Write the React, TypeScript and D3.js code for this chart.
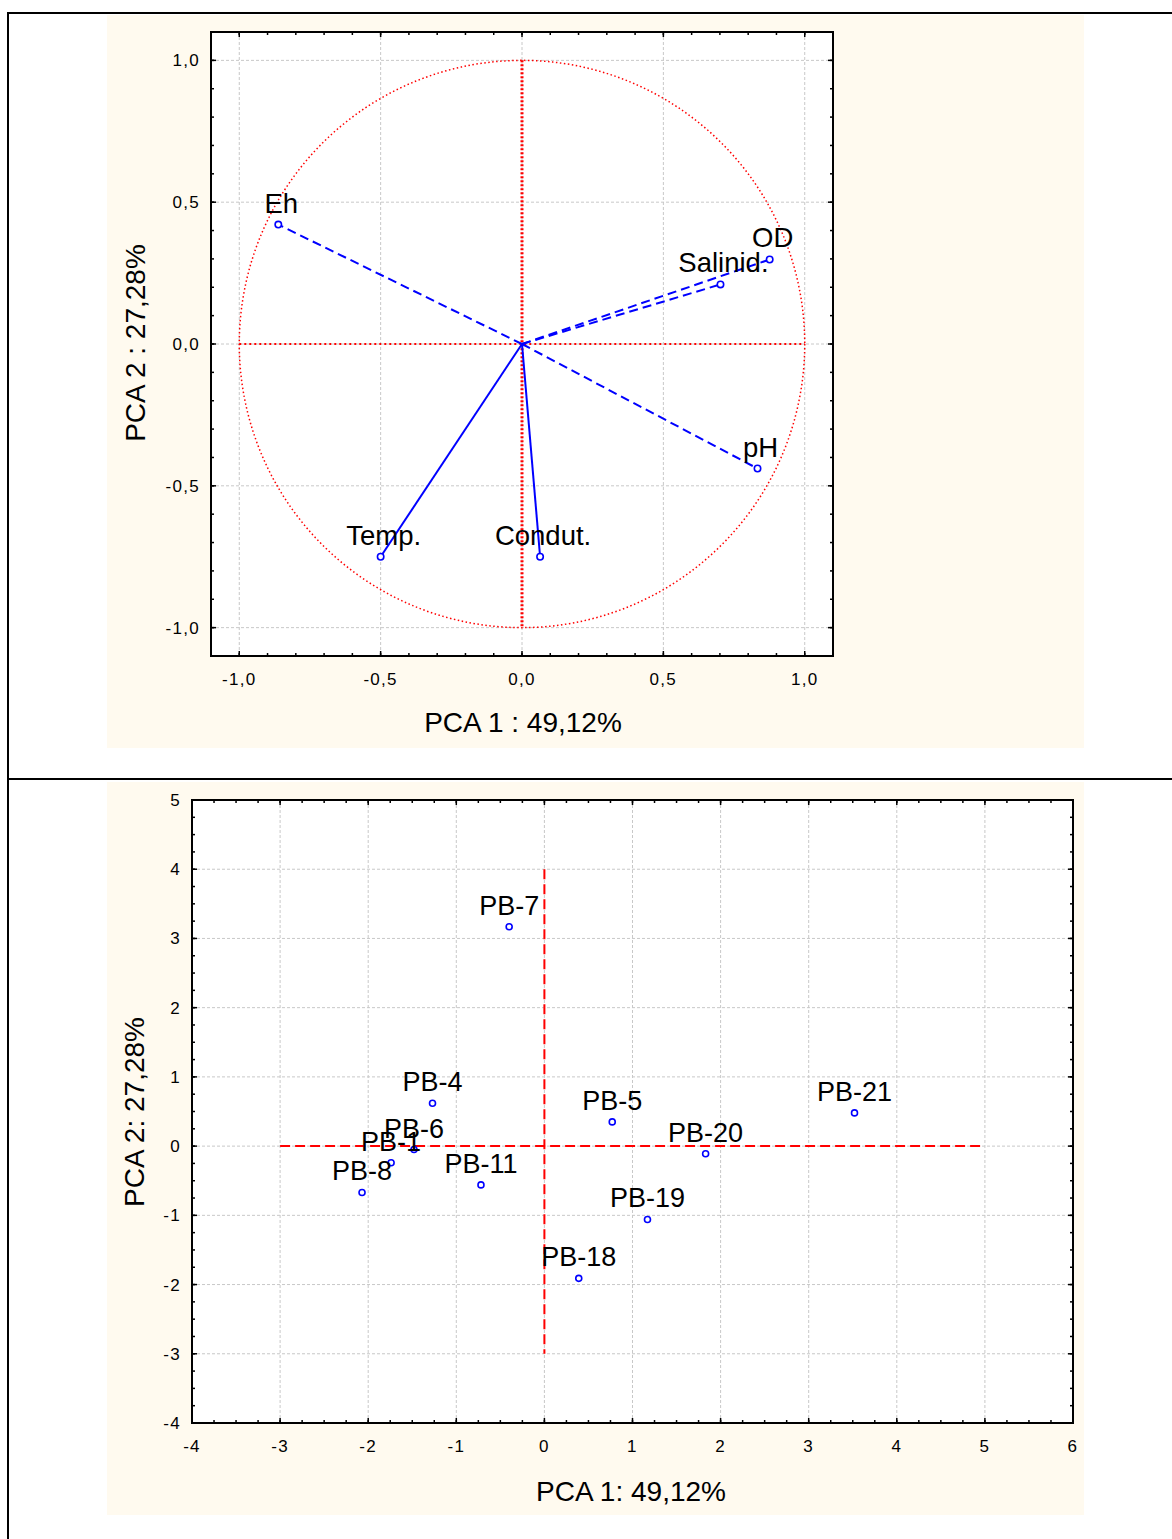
import * as d3 from 'd3';

// loadings (top panel)
const VARS = ['Eh', 'OD', 'Salinid.', 'pH', 'Temp.', 'Condut.'];
const LOAD_PC1 = [-0.862, 0.876, 0.702, 0.833, -0.5, 0.064];
const LOAD_PC2 = [0.421, 0.298, 0.21, -0.439, -0.75, -0.75];
const LOAD_TICKS = [-1, -0.5, 0, 0.5, 1];

// site scores (bottom panel)
const SITES = ['PB-7', 'PB-4', 'PB-6', 'PB-1', 'PB-8', 'PB-11', 'PB-5', 'PB-20', 'PB-21', 'PB-19', 'PB-18'];
const SCORE_PC1 = [-0.4, -1.27, -1.48, -1.74, -2.07, -0.72, 0.77, 1.83, 3.52, 1.17, 0.39];
const SCORE_PC2 = [3.17, 0.62, -0.05, -0.24, -0.67, -0.56, 0.35, -0.11, 0.48, -1.06, -1.91];
const SCORE_X_TICKS = [-4, -3, -2, -1, 0, 1, 2, 3, 4, 5, 6];
const SCORE_Y_TICKS = [-4, -3, -2, -1, 0, 1, 2, 3, 4, 5];

const FONT = 'Arial, "Liberation Sans", sans-serif';
const BLUE = '#0000ff';
const RED = '#ff0000';
const GRID = '#c8c8c8';
const CREAM = '#fffaef';

const solidVars = new Set(['Temp.', 'Condut.']);
const fmtComma = (v: number) => v.toFixed(1).replace('.', ',');

type Scale = d3.ScaleLinear<number, number>;

function Frame({ x, y, majorX, majorY, minorX, minorY, fmtX, fmtY }: {
  x: Scale; y: Scale; majorX: number[]; majorY: number[]; minorX: number[]; minorY: number[];
  fmtX: (v: number) => string; fmtY: (v: number) => string;
}) {
  const [x0, x1] = x.range();
  const [y0, y1] = y.range(); // y0 bottom, y1 top
  const tickStyle = { stroke: '#000', strokeWidth: 1.5 };
  return (
    <g>
      {/* grid */}
      {majorX.filter(v => x(v) > x0 + 1 && x(v) < x1 - 1).map(v => (
        <line key={'gx' + v} x1={x(v)} x2={x(v)} y1={y1} y2={y0} stroke={GRID} strokeWidth={1} strokeDasharray="3,2" />
      ))}
      {majorY.filter(v => y(v) < y0 - 1 && y(v) > y1 + 1).map(v => (
        <line key={'gy' + v} x1={x0} x2={x1} y1={y(v)} y2={y(v)} stroke={GRID} strokeWidth={1} strokeDasharray="3,2" />
      ))}
      {/* minor ticks, all four sides, inward */}
      {minorX.map(v => (
        <g key={'mx' + v}>
          <line x1={x(v)} x2={x(v)} y1={y0} y2={y0 - 3} {...tickStyle} />
          <line x1={x(v)} x2={x(v)} y1={y1} y2={y1 + 3} {...tickStyle} />
        </g>
      ))}
      {minorY.map(v => (
        <g key={'my' + v}>
          <line x1={x0} x2={x0 + 3} y1={y(v)} y2={y(v)} {...tickStyle} />
          <line x1={x1} x2={x1 - 3} y1={y(v)} y2={y(v)} {...tickStyle} />
        </g>
      ))}
      {majorX.map(v => (
        <g key={'tx' + v}>
          <line x1={x(v)} x2={x(v)} y1={y0} y2={y0 - 5} {...tickStyle} />
          <line x1={x(v)} x2={x(v)} y1={y1} y2={y1 + 5} {...tickStyle} />
        </g>
      ))}
      {majorY.map(v => (
        <g key={'ty' + v}>
          <line x1={x0} x2={x0 + 5} y1={y(v)} y2={y(v)} {...tickStyle} />
          <line x1={x1} x2={x1 - 5} y1={y(v)} y2={y(v)} {...tickStyle} />
        </g>
      ))}
      <rect x={x0} y={y1} width={x1 - x0} height={y0 - y1} fill="none" stroke="#000" strokeWidth={2} />
      {/* tick labels */}
      {majorX.map(v => (
        <text key={'lx' + v} x={x(v)} y={y0 + 29} textAnchor="middle" fontSize={17} letterSpacing={1.3} fontFamily={FONT}>{fmtX(v)}</text>
      ))}
      {majorY.map(v => (
        <text key={'ly' + v} x={x0 - 11} y={y(v) + 6} textAnchor="end" fontSize={17} letterSpacing={1.3} fontFamily={FONT}>{fmtY(v)}</text>
      ))}
    </g>
  );
}

export default function App() {
  // top panel scales
  const xL = d3.scaleLinear().domain([-1.1, 1.1]).range([211, 833]);
  const yL = d3.scaleLinear().domain([-1.1, 1.1]).range([656, 32]);
  const minorL = d3.range(-11, 12).map(i => i / 10);

  // bottom panel scales
  const xS = d3.scaleLinear().domain([-4, 6]).range([192, 1073]);
  const yS = d3.scaleLinear().domain([-4, 5]).range([1423, 800]);
  const minorSX = d3.range(-16, 25).map(i => i / 4);
  const minorSY = d3.range(-16, 21).map(i => i / 4);

  const loadings = VARS.map((name, i) => ({ name, pc1: LOAD_PC1[i], pc2: LOAD_PC2[i] }));
  const scores = SITES.map((name, i) => ({ name, pc1: SCORE_PC1[i], pc2: SCORE_PC2[i] }));

  return (
    <div style={{ position: 'absolute', left: 0, top: 0 }}>
      <svg width={1172} height={1539} style={{ display: 'block', background: '#fff' }}>
        {/* table borders */}
        <line x1={8} x2={1172} y1={13} y2={13} stroke="#000" strokeWidth={2} />
        <line x1={8} x2={1172} y1={779} y2={779} stroke="#000" strokeWidth={2} />
        <line x1={8} x2={8} y1={12} y2={1539} stroke="#000" strokeWidth={2} />

        {/* ===== top: loadings ===== */}
        <rect x={107} y={15} width={977} height={733} fill={CREAM} />
        <rect x={211} y={32} width={622} height={624} fill="#fff" />
        <Frame x={xL} y={yL} majorX={LOAD_TICKS} majorY={LOAD_TICKS} minorX={minorL} minorY={minorL} fmtX={fmtComma} fmtY={fmtComma} />

        <ellipse cx={xL(0)} cy={yL(0)} rx={xL(1) - xL(0)} ry={yL(0) - yL(1)} fill="none" stroke={RED} strokeWidth={1.5} strokeDasharray="1.5,2.5" />
        <line x1={xL(-1)} x2={xL(1)} y1={yL(0)} y2={yL(0)} stroke={RED} strokeWidth={2} strokeDasharray="2,3" />
        <line x1={xL(0)} x2={xL(0)} y1={yL(1)} y2={yL(-1)} stroke={RED} strokeWidth={3} strokeDasharray="2,2" />

        {loadings.map(d => (
          <line key={'v' + d.name} x1={xL(0)} y1={yL(0)} x2={xL(d.pc1)} y2={yL(d.pc2)} stroke={BLUE} strokeWidth={2}
            strokeDasharray={solidVars.has(d.name) ? undefined : '9,5'} />
        ))}
        {loadings.map(d => (
          <circle key={'c' + d.name} cx={xL(d.pc1)} cy={yL(d.pc2)} r={3.2} fill="#fff" stroke={BLUE} strokeWidth={1.6} />
        ))}
        {loadings.map(d => (
          <text key={'t' + d.name} x={xL(d.pc1) + 3} y={yL(d.pc2) - 12} textAnchor="middle" fontSize={27.5} fontFamily={FONT}>{d.name}</text>
        ))}

        <text x={523} y={732} textAnchor="middle" fontSize={28} fontFamily={FONT}>PCA 1 : 49,12%</text>
        <text transform="translate(145,343) rotate(-90)" textAnchor="middle" fontSize={28} fontFamily={FONT}>PCA 2 : 27,28%</text>

        {/* ===== bottom: scores ===== */}
        <rect x={107} y={782} width={977} height={733} fill={CREAM} />
        <rect x={192} y={800} width={881} height={623} fill="#fff" />
        <Frame x={xS} y={yS} majorX={SCORE_X_TICKS} majorY={SCORE_Y_TICKS} minorX={minorSX} minorY={minorSY} fmtX={v => String(v)} fmtY={v => String(v)} />

        <line x1={xS(-3)} x2={xS(5)} y1={yS(0)} y2={yS(0)} stroke={RED} strokeWidth={2} strokeDasharray="10,5" />
        <line x1={xS(0)} x2={xS(0)} y1={yS(4)} y2={yS(-3)} stroke={RED} strokeWidth={2} strokeDasharray="10,5" />

        {scores.map(d => (
          <circle key={'s' + d.name} cx={xS(d.pc1)} cy={yS(d.pc2)} r={3} fill="#fff" stroke={BLUE} strokeWidth={1.6} />
        ))}
        {scores.map(d => (
          <text key={'st' + d.name} x={xS(d.pc1)} y={yS(d.pc2) - 12} textAnchor="middle" fontSize={27} fontFamily={FONT}>{d.name}</text>
        ))}

        <text x={631} y={1501} textAnchor="middle" fontSize={28} fontFamily={FONT}>PCA 1: 49,12%</text>
        <text transform="translate(144,1112) rotate(-90)" textAnchor="middle" fontSize={28} fontFamily={FONT}>PCA 2: 27,28%</text>
      </svg>
    </div>
  );
}
